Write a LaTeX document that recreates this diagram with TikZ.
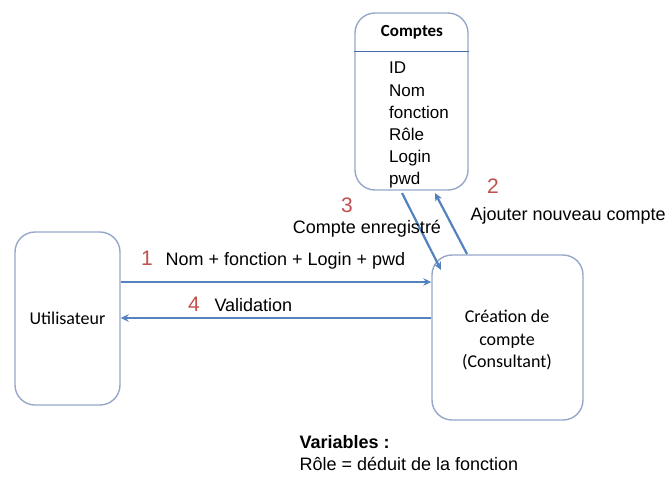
\documentclass[tikz,border=0pt]{standalone}
\usepackage{fontspec}
\setmainfont{Liberation Sans}
\newfontfamily\calib{Carlito}
\usetikzlibrary{arrows.meta}
\definecolor{flowblue}{RGB}{84,130,190}
\definecolor{boxline}{RGB}{150,168,200}
\definecolor{headline}{RGB}{75,110,170}
\definecolor{stepred}{RGB}{192,80,77}

\begin{document}
\begin{tikzpicture}[x=1pt, y=-1pt,
    box/.style={draw=boxline, line width=1.4pt, rounded corners=20pt, fill=white},
    flow/.style={draw=flowblue, line width=2.2pt, -{Stealth[length=8pt,width=7.5pt]}},
    num/.style={text=stepred, font=\fontsize{21}{21}\selectfont},
    lbl/.style={font=\fontsize{18}{18}\selectfont}]
    \useasboundingbox (0,0) rectangle (671,479);

    \node[box, minimum width=113pt, minimum height=177pt] (comptes) at (411.5,101.5) {};
    \node[box, minimum width=105pt, minimum height=173pt] (util) at (67.5,318.5) {};
    \node[box, minimum width=151pt, minimum height=165pt] (creat) at (507.5,337.5) {};
    \draw[draw=headline, line width=1.5pt] ([yshift=-39pt]comptes.north west) -- ([yshift=-39pt]comptes.north east);

    \node[font=\calib\fontsize{17}{17}\selectfont\bfseries] (titre) at (412,32) {Comptes};
    \node[anchor=north west, align=left, font=\fontsize{17}{22.2}\selectfont, inner sep=0pt] (champs) at (389,62) {ID\\Nom\\fonction\\R\^ole\\Login\\pwd};
    \node[font=\calib\fontsize{18}{18}\selectfont] (utxt) at (util) {Utilisateur};
    \node[align=center, font=\calib\fontsize{18}{22.5}\selectfont] (ctxt) at (507,340) {Cr\'eation de\\compte\\(Consultant)};

    \coordinate (y1) at (0,282);
    \coordinate (y4) at (0,318);
    \coordinate (a3) at (402,193);
    \coordinate (b3) at (441,270);
    \coordinate (a2) at (467,254);
    \coordinate (b2) at (435,193);

    \draw[flow] (util.east |- y1) -- (creat.west |- y1);
    \draw[flow] (creat.west |- y4) -- (util.east |- y4);
    \draw[flow] (a3) -- (b3);
    \draw[flow] (a2) -- (b2);

    \node[num] (n1) at (147,258) {1};
    \node[lbl, anchor=west] (l1) at (162,261) {Nom + fonction + Login + pwd};
    \node[num] (n4) at (194,304) {4};
    \node[lbl, anchor=west] (l4) at (211,305) {Validation};
    \node[num] (n3) at (347,205) {3};
    \node[lbl] (l3) at (367,229) {Compte enregistr\'e};
    \node[num] (n2) at (493,186) {2};
    \node[lbl, anchor=west] (l2) at (467,216) {Ajouter nouveau compte};

    \node[lbl, anchor=west, font=\fontsize{18}{18}\selectfont\bfseries] (vars) at (296,442) {Variables :};
    \node[lbl, anchor=west] (role) at (296,464) {R\^ole = d\'eduit de la fonction};
\end{tikzpicture}
\end{document}
